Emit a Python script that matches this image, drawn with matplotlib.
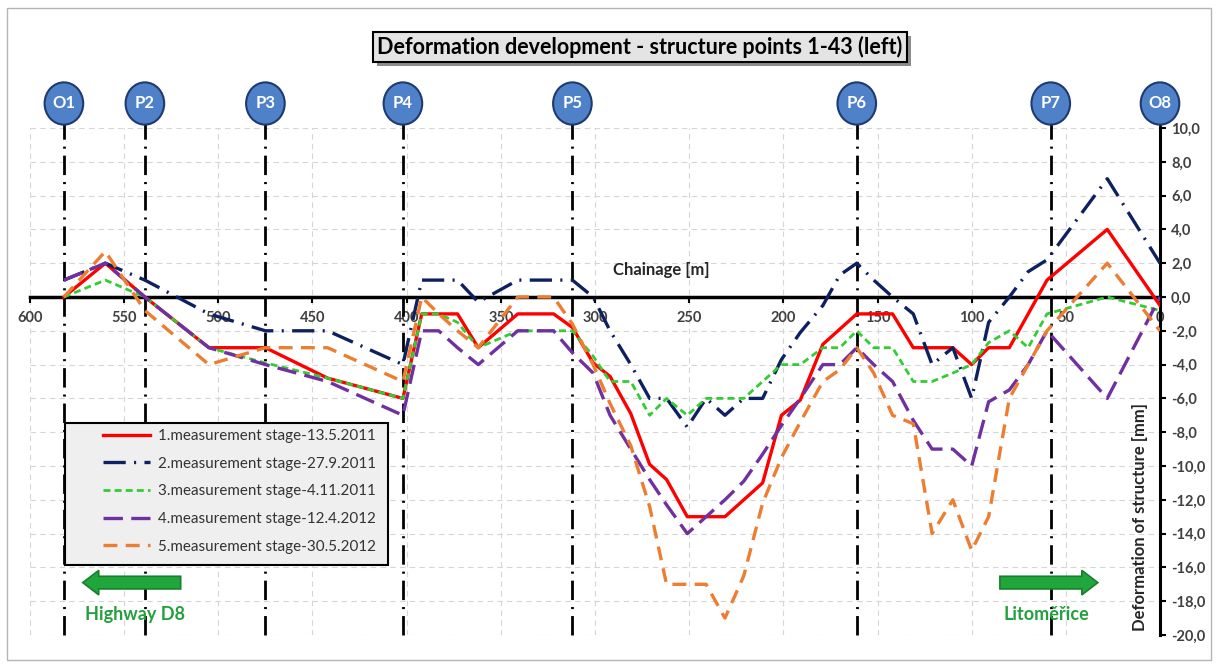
import matplotlib
matplotlib.use('Agg')
import matplotlib.pyplot as plt
from matplotlib.patches import Ellipse, Rectangle, FancyArrow
from matplotlib.transforms import IdentityTransform
import numpy as np

plt.rcParams['font.family'] = ['Lato', 'DejaVu Sans']
plt.rcParams['lines.scale_dashes'] = False

# chainage of the structure points [m]
chainage = [582, 560, 539, 505, 475, 442, 402, 392, 383, 373, 362, 341, 322, 312,
            301, 292, 281, 271, 262, 251, 241, 231, 221, 211, 201, 191, 179, 170,
            161, 152, 142, 131, 121, 110, 100, 91, 80, 70, 60, 28, 0]

stage1 = [0, 2, 0, -3, -3, -4.8, -6, -1, -1, -1, -3, -1, -1, -1.8,
          -3.9, -4.7, -6.9, -9.9, -10.8, -13, -13, -13, -12, -11, -7, -6.1, -2.8, -1.9,
          -1, -1, -1, -3, -3, -3, -4, -3, -3, -1, 1, 4, -0.5]
stage2 = [1, 2, 1, -1, -2, -2, -4, 1, 1, 1, -0.3, 1, 1, 1,
          0, -2, -4, -6, -6, -7.7, -6, -7, -6, -6, -3.7, -2.1, -0.5, 1.3,
          2, 1, 0, -1, -4, -3, -6, -1.5, 0, 1.5, 2.2, 7, 2]
stage3 = [0, 1, 0, -3, -3.9, -4.8, -6, -1, -1, -1.5, -3, -2, -2, -2,
          -3.5, -5, -5, -7, -6, -7, -6, -6, -6, -5, -4, -4, -3, -3,
          -2, -3, -3, -5, -5, -4.5, -4, -2.7, -2, -3, -1, 0, -0.8]
stage4 = [1, 2, 0, -3, -4, -5, -7, -2, -2, -3, -4, -2, -2, -3.3,
          -4.5, -7, -9, -10.8, -12.3, -14, -13, -12, -10.9, -9.3, -7.6, -6, -4, -4,
          -3, -4, -5, -7.3, -9, -9, -10, -6.2, -5.5, -4, -2, -6, 0]
stage5 = [0, 2.7, -0.8, -4, -3, -3, -5, 0, -1, -2, -3, 0, 0, -1.6,
          -4, -6.3, -8.8, -12.4, -17, -17, -17, -19, -16.5, -12.2, -9.5, -7.4, -5, -4.3,
          -3, -4.5, -7, -7.5, -14, -12, -15, -13, -6, -4, -2, 2, -2]

series_labels = ['1.measurement stage-13.5.2011', '2.measurement stage-27.9.2011',
                 '3.measurement stage-4.11.2011', '4.measurement stage-12.4.2012',
                 '5.measurement stage-30.5.2012']

point_names = ['O1', 'P2', 'P3', 'P4', 'P5', 'P6', 'P7', 'O8']
point_ch = [582, 539, 475, 402, 312, 161, 58, 0]

x_ticks = np.arange(0, 601, 50)
y_ticks = np.arange(-20, 11, 2)

fig = plt.figure(figsize=(12.18, 6.66), dpi=100)
ax = fig.add_axes([30 / 1218, 31 / 666, 1130 / 1218, 507 / 666])
ax.set_xlim(600, 0)
ax.set_ylim(-20, 10)

ax.set_xticks(x_ticks)
ax.set_yticks(y_ticks)
ax.set_yticklabels([f"{v:.1f}".replace('.', ',') for v in y_ticks])
ax.grid(True, color='#d6d6d6', linestyle=(0, (4, 3)), lw=0.8)
ax.set_axisbelow(True)

ax.spines['top'].set_visible(False)
ax.spines['left'].set_visible(False)
ax.spines['bottom'].set_position(('data', 0))
ax.spines['bottom'].set_linewidth(2.5)
ax.spines['right'].set_linewidth(2.2)
ax.yaxis.tick_right()
ax.tick_params(axis='x', direction='out', length=4, width=1.5, labelsize=10.5,
               pad=6, labelcolor='#404040')
ax.tick_params(axis='y', direction='out', length=4, width=1.5, labelsize=10.5,
               pad=4, labelcolor='#404040')
for lab in ax.get_xticklabels() + ax.get_yticklabels():
    lab.set_fontweight('bold')

# structure point markers
ax.vlines(point_ch, -20, 10.4, colors='black', lw=2,
          linestyles=[(0, (14, 5, 1.5, 5))], clip_on=False, zorder=2)
for name, c in zip(point_names, point_ch):
    ax.add_patch(Ellipse((c, 11.45), width=20.5, height=2.5, fc='#4f81c9',
                         ec='#1f3a6e', lw=1.5, clip_on=False, zorder=6))
    ax.text(c, 11.45, name, ha='center', va='center', color='white',
            fontsize=12, fontweight='bold', clip_on=False, zorder=7)

ax.plot(chainage, stage1, color='#ff0000', lw=2.4, label=series_labels[0], zorder=4)
ax.plot(chainage, stage2, color='#0f2060', lw=2.4, dashes=(16, 6, 1.5, 6),
        label=series_labels[1], zorder=4)
ax.plot(chainage, stage3, color='#33cc33', lw=2.0, dashes=(5, 3),
        label=series_labels[2], zorder=4)
ax.plot(chainage, stage4, color='#7030a0', lw=2.4, dashes=(14, 6),
        label=series_labels[3], zorder=4)
ax.plot(chainage, stage5, color='#ed7d31', lw=2.4, dashes=(10, 6),
        label=series_labels[4], zorder=4)

# legend box drawn separately so the handles sit further right, as in the original
ax.add_patch(Rectangle((35 / 1130, 70 / 507), 323 / 1130, 142 / 507,
                       transform=ax.transAxes, fc='#efefef', ec='black', lw=1.5,
                       zorder=8))
leg = ax.legend(loc='upper left', bbox_to_anchor=(73 / 1130, 206 / 507),
                fontsize=10.9, frameon=False, handlelength=3.1,
                labelspacing=0.9, borderpad=0, handletextpad=0.5,
                borderaxespad=0)
leg.set_zorder(9)
for t in leg.get_texts():
    t.set_color('#333333')

ax.text(265, 1.6, 'Chainage [m]', ha='center', va='center', fontsize=12,
        fontweight='bold', color='#262626')
ax.text(10.6, -13, 'Deformation of structure [mm]', rotation=90, ha='center',
        va='center', fontsize=12, fontweight='bold', color='#262626')

# direction arrows
ax.add_patch(FancyArrow(520, -16.9, 52, 0, width=0.75, head_width=1.45,
                        head_length=8.5, length_includes_head=True,
                        fc='#21a63c', ec='#17802c', lw=1.2, zorder=5))
ax.add_patch(FancyArrow(85, -16.9, -52, 0, width=0.75, head_width=1.45,
                        head_length=8.5, length_includes_head=True,
                        fc='#21a63c', ec='#17802c', lw=1.2, zorder=5))
ax.text(544, -18.8, 'Highway D8', ha='center', va='center', fontsize=13,
        fontweight='bold', color='#22a03c')
ax.text(60.4, -18.8, 'Litoměřice', ha='center', va='center', fontsize=13,
        fontweight='bold', color='#22a03c')

# title with a drop shadow
title = 'Deformation development - structure points 1-43 (left)'
ttl = fig.text(640 / 1218, 1 - 47 / 666, title, ha='center', va='center',
               fontsize=15.5, fontweight='bold', color='black', zorder=5,
               bbox=dict(boxstyle='square,pad=0.2', fc='#e4e4e4', ec='black',
                         lw=1.5))
fig.canvas.draw()
bb = ttl.get_bbox_patch().get_window_extent()
fig.patches.append(Rectangle((bb.x0 + 4, bb.y0 - 4), bb.width, bb.height,
                             transform=IdentityTransform(), fc='#8c8c8c',
                             ec='none', zorder=1))

fig.patches.append(Rectangle((7 / 1218, 6 / 666), 1204 / 1218, 652 / 666,
                             transform=fig.transFigure, fill=False,
                             ec='#b4b4b4', lw=1))

fig.savefig('out.png', dpi=100)
